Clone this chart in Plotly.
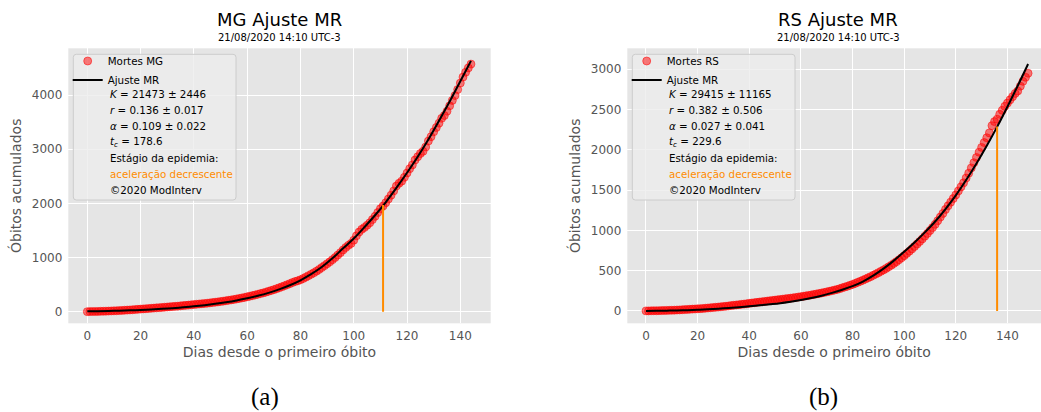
import plotly.graph_objects as go

W, H = 1041, 412

# ---------------- data ----------------
days_mg = list(range(145))
deaths_mg = [1, 2, 3, 4, 5, 7, 8, 10, 12, 14, 16, 18, 21, 24, 27, 30, 33, 36, 40, 44, 48,
             52, 55, 59, 63, 67, 71, 75, 79, 83, 87, 91, 95, 99, 103, 108, 113, 117, 122, 127, 132,
             137, 142, 147, 152, 157, 163, 169, 175, 181, 188, 195, 202, 210, 218, 226, 235, 244, 254, 264, 275,
             286, 297, 309, 321, 334, 347, 361, 376, 391, 407, 424, 441, 459, 478, 498, 518, 538, 557, 571, 590,
             612, 638, 665, 690, 718, 748, 780, 815, 850, 885, 920, 960, 1000, 1045, 1090, 1140, 1185, 1225, 1260, 1320,
             1400, 1470, 1520, 1555, 1595, 1640, 1700, 1760, 1830, 1900, 1950, 2010, 2080, 2150, 2230, 2320, 2370, 2410, 2480, 2560,
             2640, 2710, 2800, 2860, 2920, 2960, 3040, 3150, 3230, 3320, 3400, 3480, 3570, 3620, 3700, 3800, 3900, 3990, 4100, 4220,
             4330, 4420, 4500, 4570]
fit_days_mg = list(range(0, 145, 4))
fit_mg = [7, 10, 14, 19, 25, 33, 42, 53, 66, 81, 99, 120, 145, 174, 208, 248, 294, 348, 412, 488,
          580, 693, 825, 985, 1170, 1350, 1560, 1780, 2020, 2285, 2565, 2860, 3180, 3525, 3880, 4255, 4630]
mark_day_mg = 111
mark_val_mg = 1970

days_rs = list(range(149))
deaths_rs = [1, 1, 2, 3, 3, 4, 5, 6, 7, 8, 9, 10, 12, 13, 15, 17, 19, 21, 23, 25, 27,
             29, 31, 34, 37, 40, 43, 46, 49, 52, 56, 59, 63, 67, 71, 75, 78, 82, 86, 90, 95,
             99, 103, 107, 111, 115, 119, 123, 127, 131, 135, 139, 143, 147, 151, 155, 159, 163, 168, 173, 178,
             183, 188, 193, 199, 205, 211, 217, 223, 230, 237, 244, 251, 259, 267, 276, 287, 297, 307, 318, 330,
             342, 355, 368, 382, 396, 411, 426, 442, 458, 475, 492, 510, 528, 548, 568, 590, 612, 636, 660, 686,
             714, 742, 770, 800, 830, 862, 894, 928, 962, 998, 1035, 1075, 1120, 1165, 1210, 1260, 1305, 1350, 1395, 1440,
             1490, 1540, 1590, 1650, 1710, 1775, 1840, 1905, 1970, 2030, 2090, 2150, 2210, 2300, 2350, 2380, 2440, 2490, 2540, 2580,
             2620, 2660, 2700, 2730, 2790, 2850, 2900, 2950]
fit_days_rs = list(range(0, 149, 4))
fit_rs = [1, 2, 4, 6, 10, 15, 21, 29, 37, 47, 58, 70, 83, 97, 115, 135, 160, 190, 225, 264,
          308, 365, 438, 525, 625, 735, 850, 975, 1110, 1265, 1435, 1625, 1830, 2050, 2285, 2535, 2795, 3065]
mark_day_rs = 136
mark_val_rs = 2290

x_ticks = [0, 20, 40, 60, 80, 100, 120, 140]
y_ticks_mg = [0, 1000, 2000, 3000, 4000]
y_ticks_rs = [0, 500, 1000, 1500, 2000, 2500, 3000]

info_mg = ["<i>K</i> = 21473 ± 2446", "<i>r</i> = 0.136 ± 0.017", "<i>α</i> = 0.109 ± 0.022",
           "<i>t</i><sub><i>c</i></sub> = 178.6", "Estágio da epidemia:", "aceleração decrescente", "©2020 ModInterv"]
info_rs = ["<i>K</i> = 29415 ± 11165", "<i>r</i> = 0.382 ± 0.506", "<i>α</i> = 0.027 ± 0.041",
           "<i>t</i><sub><i>c</i></sub> = 229.6", "Estágio da epidemia:", "aceleração decrescente", "©2020 ModInterv"]
info_colors = ["black", "black", "black", "black", "black", "darkorange", "black"]
subtitle = "21/08/2020 14:10 UTC-3"

# ---------------- helpers ----------------
def px(xp):
    return xp / W


def py(yp):
    return 1 - yp / H


FONT = "DejaVu Sans"
RED = "rgba(255,0,0,0.5)"
GREY = "#555555"

fig = go.Figure()

for days, deaths, fdays, fvals, mday, mval, name, xa, ya, lg in [
    (days_mg, deaths_mg, fit_days_mg, fit_mg, mark_day_mg, mark_val_mg, "Mortes MG", "x", "y", "legend"),
    (days_rs, deaths_rs, fit_days_rs, fit_rs, mark_day_rs, mark_val_rs, "Mortes RS", "x2", "y2", "legend2"),
]:
    fig.add_trace(go.Scatter(x=days, y=deaths, mode="markers", name=name,
                             marker=dict(color=RED, size=8, line=dict(color=RED, width=1)),
                             xaxis=xa, yaxis=ya, legend=lg))
    fig.add_trace(go.Scatter(x=fdays, y=fvals, mode="lines", name="Ajuste MR",
                             line=dict(color="black", width=2, shape="spline"),
                             xaxis=xa, yaxis=ya, legend=lg))
    fig.add_trace(go.Scatter(x=[mday, mday], y=[0, mval], mode="lines", showlegend=False,
                             line=dict(color="darkorange", width=2), xaxis=xa, yaxis=ya))


def axis(domain, rng, ticks, anchor, title, standoff, tls):
    return dict(domain=domain, range=rng, tickvals=ticks, anchor=anchor,
                showgrid=True, gridcolor="white", gridwidth=1.2, zeroline=False, showline=False,
                ticks="", ticklabelstandoff=tls,
                tickfont=dict(family=FONT, size=12, color=GREY),
                title=dict(text=title, standoff=standoff,
                           font=dict(family=FONT, size=14, color=GREY)))


ydom = [py(323.3), py(48.3)]
XT = "Dias desde o primeiro óbito"
YT = "Óbitos acumulados"
fig.update_layout(
    width=W, height=H, autosize=False,
    margin=dict(l=0, r=0, t=0, b=0),
    font=dict(family=FONT, size=12, color=GREY),
    paper_bgcolor="white", plot_bgcolor="#E5E5E5",
    xaxis=axis([px(68.3), px(490.7)], [-7.13, 151.4], x_ticks, "y", XT, 4, 4),
    yaxis=axis(ydom, [-214, 4862], y_ticks_mg, "x", YT, 6, 5),
    xaxis2=axis([px(627.3), 1.0], [-7.24, 153.0], x_ticks, "y2", XT, 4, 4),
    yaxis2=axis(ydom, [-153, 3260], y_ticks_rs, "x2", YT, 6, 5),
    legend=dict(x=px(67.7), y=py(46.5), xanchor="left", yanchor="top",
                bgcolor="rgba(0,0,0,0)", borderwidth=0,
                font=dict(family=FONT, size=10.3, color="black")),
    legend2=dict(x=px(626.7), y=py(46.5), xanchor="left", yanchor="top",
                 bgcolor="rgba(0,0,0,0)", borderwidth=0,
                 font=dict(family=FONT, size=10.3, color="black")),
)


def rounded_box(x0p, y0p, x1p, y1p, r=3):
    x0, x1 = px(x0p), px(x1p)
    top, bot = py(y0p), py(y1p)
    rx, ry = r / W, r / H
    return (f"M {x0+rx},{top} L {x1-rx},{top} Q {x1},{top} {x1},{top-ry} "
            f"L {x1},{bot+ry} Q {x1},{bot} {x1-rx},{bot} L {x0+rx},{bot} "
            f"Q {x0},{bot} {x0},{bot+ry} L {x0},{top-ry} Q {x0},{top} {x0+rx},{top} Z")


annotations = []
shapes = []
rows_y = [94.3, 110.0, 125.8, 141.7, 157.7, 173.8, 189.7]
for box_x0, box_x1, text_x, info, title, cx, cap, capx in [
    (73.3, 236.0, 107.7, info_mg, "MG Ajuste MR", 279.5, "(a)", 265),
    (632.3, 795.0, 666.7, info_rs, "RS Ajuste MR", 838.0, "(b)", 823.5),
]:
    shapes.append(dict(type="path", path=rounded_box(box_x0, 54.3, box_x1, 200.0),
                       xref="paper", yref="paper", layer="above",
                       fillcolor="rgba(236,236,236,0.8)", line=dict(color="#CCCCCC", width=1)))
    for txt, col, yy in zip(info, info_colors, rows_y):
        annotations.append(dict(text=txt, x=px(text_x), y=py(yy), xref="paper", yref="paper",
                                xanchor="left", yanchor="middle", showarrow=False,
                                font=dict(family=FONT, size=10.3, color=col)))
    annotations.append(dict(text=title, x=px(cx), y=py(20), xref="paper", yref="paper",
                            xanchor="center", yanchor="middle", showarrow=False,
                            font=dict(family=FONT, size=18, color="black")))
    annotations.append(dict(text=subtitle, x=px(cx), y=py(37.5), xref="paper", yref="paper",
                            xanchor="center", yanchor="middle", showarrow=False,
                            font=dict(family=FONT, size=10, color="black")))
    annotations.append(dict(text=cap, x=px(capx), y=py(411.5), xref="paper", yref="paper",
                            xanchor="center", yanchor="bottom", showarrow=False, borderpad=0,
                            font=dict(family="Liberation Serif", size=25, color="black")))

fig.update_layout(annotations=annotations, shapes=shapes)
fig.write_html("out.html",
               config={"displayModeBar": False},
               post_script="document.body.style.margin='0px';"
                           "document.documentElement.style.overflow='hidden';")
